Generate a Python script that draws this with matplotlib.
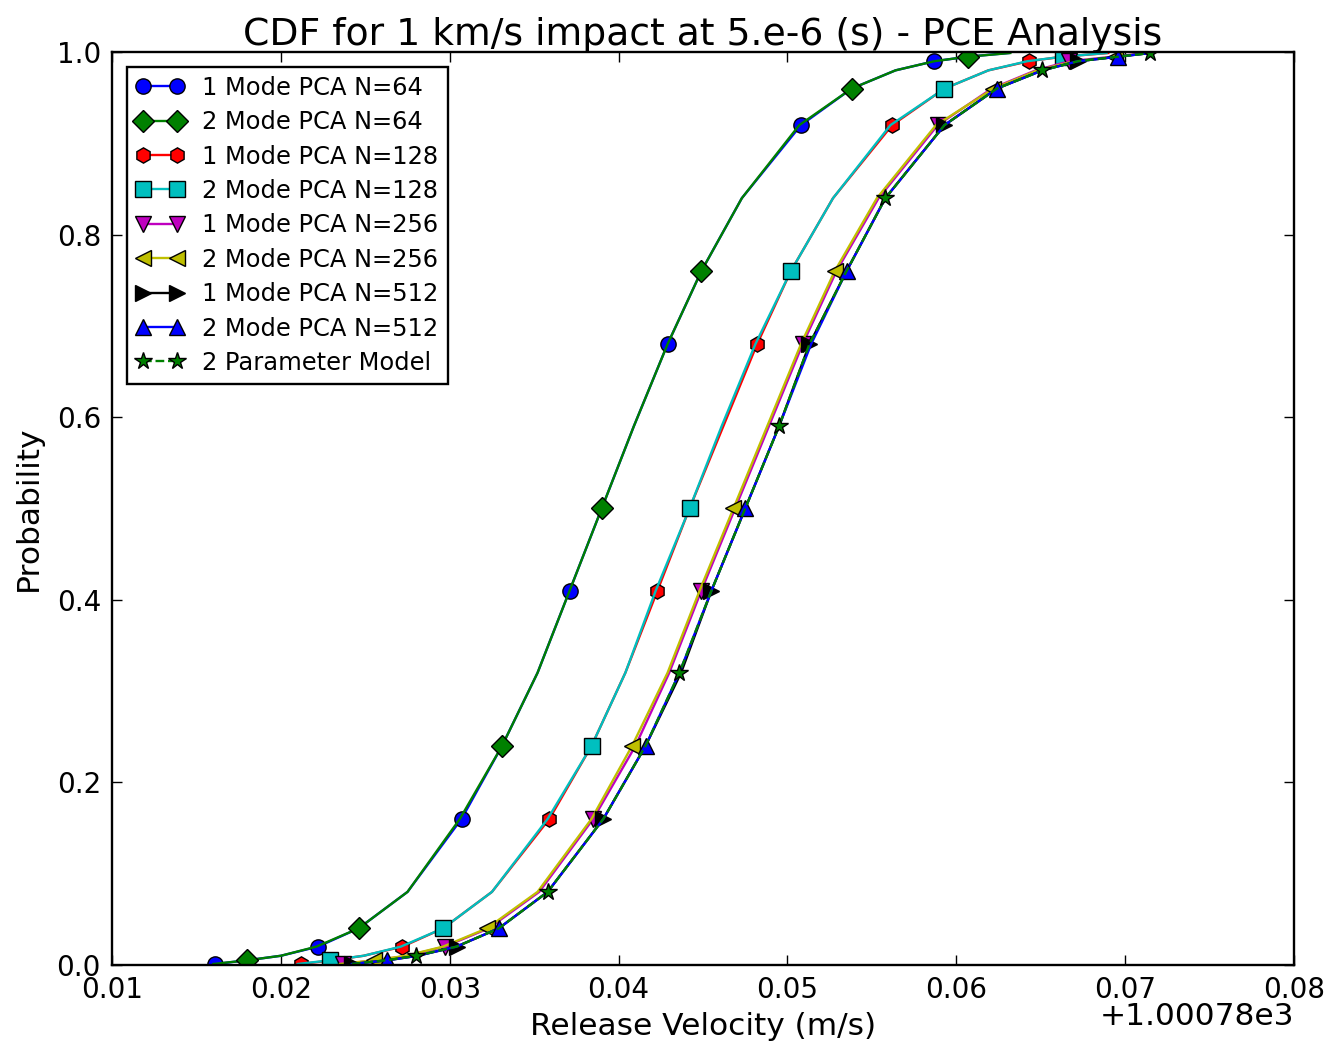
import matplotlib as mpl
mpl.use("Agg")
import matplotlib.pyplot as plt
from matplotlib.ticker import ScalarFormatter

# release velocity is stored as offset from V0 (m/s)
V0 = 1000.78

prob = [0.001, 0.005, 0.01, 0.02, 0.04, 0.08, 0.16, 0.24, 0.32, 0.41, 0.5,
        0.59, 0.68, 0.76, 0.84, 0.92, 0.96, 0.98, 0.99, 0.995, 0.999]

m1_n64 = [0.0161, 0.0180, 0.0200, 0.0222, 0.0246, 0.0275, 0.0307, 0.0331, 0.0352, 0.0371, 0.0390,
          0.0409, 0.0429, 0.0449, 0.0473, 0.0508, 0.0538, 0.0564, 0.0587, 0.0607, 0.0631]
m2_n64 = [0.0160, 0.0180, 0.0200, 0.0221, 0.0246, 0.0275, 0.0306, 0.0331, 0.0352, 0.0371, 0.0390,
          0.0409, 0.0429, 0.0449, 0.0473, 0.0507, 0.0538, 0.0564, 0.0587, 0.0607, 0.0632]
m1_n128 = [0.0212, 0.0230, 0.0249, 0.0272, 0.0296, 0.0325, 0.0359, 0.0384, 0.0404, 0.0423, 0.0442,
           0.0462, 0.0482, 0.0502, 0.0527, 0.0562, 0.0593, 0.0619, 0.0643, 0.0663, 0.0690]
m2_n128 = [0.0210, 0.0229, 0.0249, 0.0271, 0.0296, 0.0325, 0.0358, 0.0384, 0.0404, 0.0422, 0.0442,
           0.0461, 0.0481, 0.0502, 0.0527, 0.0561, 0.0593, 0.0619, 0.0642, 0.0663, 0.0689]
m1_n256 = [0.0237, 0.0256, 0.0275, 0.0297, 0.0323, 0.0353, 0.0385, 0.0410, 0.0430, 0.0449, 0.0469,
           0.0489, 0.0509, 0.0529, 0.0554, 0.0589, 0.0621, 0.0647, 0.0667, 0.0693, 0.0713]
m2_n256 = [0.0235, 0.0255, 0.0274, 0.0296, 0.0322, 0.0352, 0.0384, 0.0408, 0.0429, 0.0448, 0.0468,
           0.0488, 0.0508, 0.0528, 0.0553, 0.0588, 0.0622, 0.0648, 0.0670, 0.0694, 0.0715]
m1_n512 = [0.0242, 0.0263, 0.0281, 0.0304, 0.0329, 0.0358, 0.0391, 0.0416, 0.0437, 0.0455, 0.0475,
           0.0495, 0.0513, 0.0535, 0.0558, 0.0593, 0.0624, 0.0651, 0.0672, 0.0696, 0.0715]
m2_n512 = [0.0242, 0.0263, 0.0281, 0.0304, 0.0329, 0.0358, 0.0391, 0.0416, 0.0436, 0.0455, 0.0475,
           0.0495, 0.0514, 0.0535, 0.0558, 0.0593, 0.0624, 0.0651, 0.0672, 0.0696, 0.0715]
two_param = [0.0242, 0.0262, 0.0280, 0.0304, 0.0329, 0.0358, 0.0391, 0.0416, 0.0436, 0.0455, 0.0475,
             0.0495, 0.0513, 0.0535, 0.0558, 0.0593, 0.0624, 0.0651, 0.0672, 0.0696, 0.0715]

series = [
    ("1 Mode PCA N=64", m1_n64, "o", "-", (0, 0, 1), 0),
    ("2 Mode PCA N=64", m2_n64, "D", "-", (0, 0.5, 0), 1),
    ("1 Mode PCA N=128", m1_n128, "h", "-", (1, 0, 0), 0),
    ("2 Mode PCA N=128", m2_n128, "s", "-", (0, 0.75, 0.75), 1),
    ("1 Mode PCA N=256", m1_n256, "v", "-", (0.75, 0, 0.75), 0),
    ("2 Mode PCA N=256", m2_n256, "<", "-", (0.75, 0.75, 0), 1),
    ("1 Mode PCA N=512", m1_n512, ">", "-", (0, 0, 0), 0),
    ("2 Mode PCA N=512", m2_n512, "^", "-", (0, 0, 1), 1),
    ("2 Parameter Model", two_param, "*", "--", (0, 0.5, 0), 2),
]

fig = plt.figure(figsize=(13.34, 10.42), dpi=100)
ax = fig.add_axes([0.084, 0.074, 0.886, 0.876])

for label, dv, mk, ls, col, start in series:
    ms = 13 if mk == "*" else 11
    ax.plot([V0 + d for d in dv], prob, color=col, ls=ls, lw=1.7, marker=mk,
            ms=ms, mfc=col, mec="k", mew=1.0, markevery=(start, 3), label=label)

ax.set_xlim(V0 + 0.01, V0 + 0.08)
ax.set_ylim(0, 1.0)
ax.set_xticks([V0 + 0.01 * k for k in range(1, 9)])
ax.set_yticks([0, 0.2, 0.4, 0.6, 0.8, 1.0])
ax.yaxis.set_major_formatter(mpl.ticker.FormatStrFormatter("%.1f"))
ax.xaxis.set_major_formatter(ScalarFormatter(useOffset=V0))
ax.xaxis.get_offset_text().set_visible(False)
ax.text(1.0, -0.041, "+1.00078e3", transform=ax.transAxes, ha="right", va="top", fontsize=22.5)

ax.tick_params(direction="in", length=7, width=1, labelsize=20, top=True, right=True, pad=8)
for s in ax.spines.values():
    s.set_linewidth(1.7)

ax.set_title("CDF for 1 km/s impact at 5.e-6 (s) - PCE Analysis", fontsize=27.2, pad=5)
ax.set_xlabel("Release Velocity (m/s)", fontsize=22.5, labelpad=6)
ax.set_ylabel("Probability", fontsize=22.5, labelpad=10)

leg = ax.legend(loc="upper left", numpoints=2, fontsize=17.4, fancybox=False, framealpha=1,
                edgecolor="k", handlelength=2.0, labelspacing=0.43, borderpad=0.38,
                handletextpad=0.75, borderaxespad=0.6)
leg.get_frame().set_linewidth(1.7)

plt.savefig("out.png", dpi=100)
